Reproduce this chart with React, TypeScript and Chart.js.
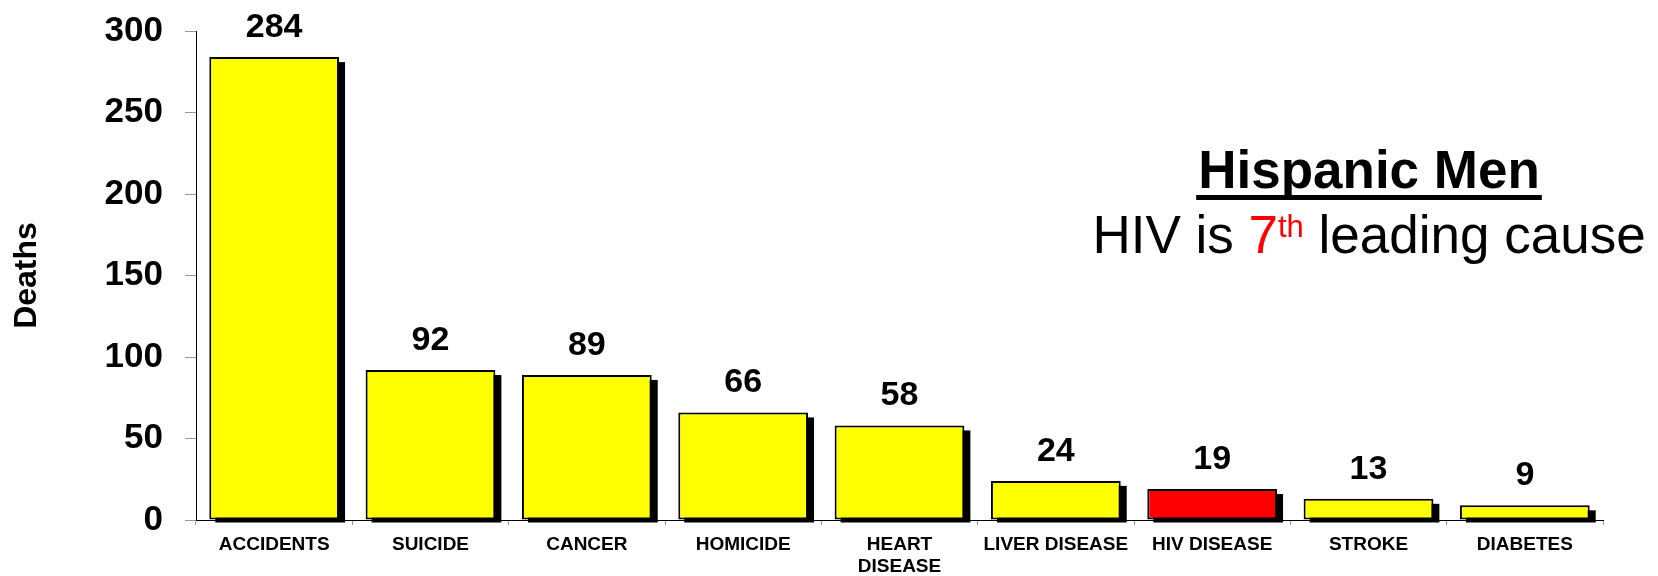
import React, { useEffect, useRef } from "react";
import { Chart, registerables } from "chart.js";

Chart.register(...registerables);

const categories: (string | string[])[] = [
  "ACCIDENTS",
  "SUICIDE",
  "CANCER",
  "HOMICIDE",
  ["HEART", "DISEASE"],
  "LIVER DISEASE",
  "HIV DISEASE",
  "STROKE",
  "DIABETES",
];
const deaths = [284, 92, 89, 66, 58, 24, 19, 13, 9];
const highlight = [false, false, false, false, false, false, true, false, false];
const yMin = 0;
const yMax = 300;
const yStep = 50;
const yAxisTitle = "Deaths";
const headline = "Hispanic Men";
const sublinePre = "HIV is ";
const sublineRank = "7";
const sublineSup = "th";
const sublinePost = " leading cause";

const FAMILY = "'Liberation Sans', Arial, Helvetica, sans-serif";

const shadowPlugin = {
  id: "barShadow",
  beforeDatasetsDraw(chart: any) {
    const ctx = chart.ctx;
    const meta = chart.getDatasetMeta(0);
    ctx.save();
    ctx.fillStyle = "#000";
    meta.data.forEach((bar: any) => {
      const p = bar.getProps(["x", "y", "base", "width"], true);
      const left = p.x - p.width / 2 + 6;
      const top = p.y + 5;
      ctx.fillRect(left, top, p.width, p.base + 3 - top);
    });
    ctx.restore();
  },
};

const valuePlugin = {
  id: "barValues",
  afterDatasetsDraw(chart: any) {
    const ctx = chart.ctx;
    const meta = chart.getDatasetMeta(0);
    const data = chart.data.datasets[0].data;
    ctx.save();
    ctx.fillStyle = "#000";
    ctx.font = `bold 34px ${FAMILY}`;
    ctx.textAlign = "center";
    ctx.textBaseline = "alphabetic";
    meta.data.forEach((bar: any, i: number) => {
      const p = bar.getProps(["x", "y"], true);
      ctx.fillText(String(data[i]), p.x, p.y - 20);
    });
    ctx.restore();
  },
};

const headlinePlugin = {
  id: "headline",
  afterDraw(chart: any) {
    const ctx = chart.ctx;
    const cx = chart.width - 289;
    ctx.save();
    ctx.textBaseline = "alphabetic";
    ctx.fillStyle = "#000";
    ctx.font = `bold 53px ${FAMILY}`;
    ctx.textAlign = "center";
    ctx.fillText(headline, cx, 188);
    const hw = ctx.measureText(headline).width;
    ctx.fillRect(cx - hw / 2 - 2, 195, hw + 4, 5);

    ctx.textAlign = "left";
    const big = `53px ${FAMILY}`;
    const small = `31px ${FAMILY}`;
    ctx.font = big;
    const w1 = ctx.measureText(sublinePre).width;
    const w2 = ctx.measureText(sublineRank).width;
    const w4 = ctx.measureText(sublinePost).width;
    ctx.font = small;
    const w3 = ctx.measureText(sublineSup).width;
    const total = w1 + w2 + w3 + w4;
    let x = cx - total / 2;
    const base = 253;
    ctx.font = big;
    ctx.fillStyle = "#000";
    ctx.fillText(sublinePre, x, base);
    x += w1;
    ctx.fillStyle = "#ff0000";
    ctx.fillText(sublineRank, x, base);
    x += w2;
    ctx.font = small;
    ctx.fillText(sublineSup, x, base - 16);
    x += w3;
    ctx.font = big;
    ctx.fillStyle = "#000";
    ctx.fillText(sublinePost, x, base);
    ctx.restore();
  },
};

export default function App() {
  const ref = useRef<HTMLCanvasElement | null>(null);

  useEffect(() => {
    if (!ref.current) return;
    const chart = new Chart(ref.current, {
      type: "bar",
      data: {
        labels: categories as any,
        datasets: [
          {
            label: yAxisTitle,
            data: deaths,
            backgroundColor: highlight.map((h) => (h ? "#ff0000" : "#ffff00")),
            borderColor: "#000",
            borderWidth: 2,
            borderSkipped: false,
            categoryPercentage: 1,
            barPercentage: 0.83,
          },
        ],
      },
      options: {
        responsive: false,
        animation: false,
        devicePixelRatio: 1,
        layout: { padding: { top: 31, right: 55, left: 0, bottom: 0 } },
        plugins: {
          legend: { display: false },
          tooltip: { enabled: false },
          title: { display: false },
        },
        scales: {
          x: {
            ticks: {
              color: "#000",
              font: { family: FAMILY, size: 19, weight: "bold", lineHeight: 1.2 },
              padding: 8,
              maxRotation: 0,
              autoSkip: false,
            },
            grid: {
              drawOnChartArea: false,
              drawTicks: true,
              tickLength: 5,
              color: "#999",
              offset: true,
            },
            border: { display: true, color: "#000", width: 1 },
            afterFit: (s: any) => {
              s.height = 56;
              s.paddingLeft = 0;
              s.paddingRight = 0;
            },
          },
          y: {
            min: yMin,
            max: yMax,
            ticks: {
              stepSize: yStep,
              color: "#000",
              font: { family: FAMILY, size: 35, weight: "bold" },
              padding: 22,
            },
            grid: {
              drawOnChartArea: false,
              drawTicks: true,
              tickLength: 11,
              color: "#999",
            },
            border: { display: true, color: "#000", width: 1 },
            title: {
              display: true,
              text: yAxisTitle,
              color: "#000",
              font: { family: FAMILY, size: 32, weight: "bold" },
              padding: { top: 8, bottom: 0 },
            },
            afterFit: (s: any) => {
              s.width = 196;
              s.paddingTop = 0;
              s.paddingBottom = 0;
            },
          },
        },
      },
      plugins: [shadowPlugin, valuePlugin, headlinePlugin],
    });
    return () => chart.destroy();
  }, []);

  return (
    <div style={{ position: "absolute", left: 0, top: 0, width: 1658, height: 576, background: "#fff" }}>
      <canvas ref={ref} width={1658} height={576} style={{ display: "block" }} />
    </div>
  );
}
